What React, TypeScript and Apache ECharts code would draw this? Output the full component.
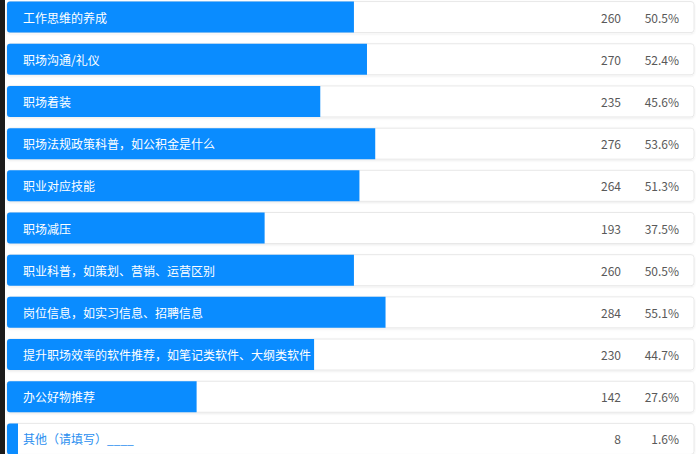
import React, { useEffect, useRef } from "react";
import * as echarts from "echarts";

const categories = [
  "工作思维的养成",
  "职场沟通/礼仪",
  "职场着装",
  "职场法规政策科普，如公积金是什么",
  "职业对应技能",
  "职场减压",
  "职业科普，如策划、营销、运营区别",
  "岗位信息，如实习信息、招聘信息",
  "提升职场效率的软件推荐，如笔记类软件、大纲类软件",
  "办公好物推荐",
  "其他（请填写）____",
];
const counts = [260, 270, 235, 276, 264, 193, 260, 284, 230, 142, 8];
const percents = [50.5, 52.4, 45.6, 53.6, 51.3, 37.5, 50.5, 55.1, 44.7, 27.6, 1.6];

export default function App() {
  const ref = useRef<HTMLDivElement>(null);
  useEffect(() => {
    const chart = echarts.init(ref.current!, null, { renderer: "svg" });
    const font = "'Noto Sans CJK SC', 'Microsoft YaHei', sans-serif";
    chart.setOption({
      animation: false,
      backgroundColor: "#ffffff",
      graphic: [
        { type: "rect", left: 0, top: 0, shape: { width: 5, height: 470 }, style: { fill: "#1b1b1b" }, z: 100 },
      ],
      grid: { left: 7, right: 2, top: 0, bottom: 0, containLabel: false },
      xAxis: { type: "value", min: 0, max: 100, show: false },
      yAxis: [
        {
          type: "category",
          data: categories,
          inverse: true,
          show: false,
        },
        {
          type: "category",
          data: categories,
          inverse: true,
          position: "right",
          axisLine: { show: false },
          axisTick: { show: false },
          splitLine: { show: false },
          z: 10,
          axisLabel: {
            inside: true,
            margin: 15,
            fontFamily: font,
            formatter: (_v: string, i: number) =>
              `{n|${counts[i]}}{p|${percents[i].toFixed(1)}%}`,
            rich: {
              n: { width: 40, align: "right", color: "#595959", fontSize: 12, fontFamily: font },
              p: { width: 58, align: "right", color: "#595959", fontSize: 12, fontFamily: font },
            },
          },
        },
      ],
      series: [
        {
          type: "bar",
          data: percents.map((v, i) => ({
            value: v,
            label: i === categories.length - 1 ? { color: "#2b8ff0" } : undefined,
          })),
          barWidth: 31,
          itemStyle: { color: "#0a8cff", borderRadius: [3, 0, 0, 3] },
          showBackground: true,
          backgroundStyle: {
            color: "#ffffff",
            borderColor: "#e8e8e8",
            borderWidth: 1,
            borderRadius: 3,
            shadowBlur: 2,
            shadowColor: "rgba(0,0,0,0.08)",
            shadowOffsetY: 1,
          },
          label: {
            show: true,
            position: "insideLeft",
            distance: 16,
            color: "#ffffff",
            fontSize: 12,
            fontFamily: font,
            formatter: (p: any) => categories[p.dataIndex],
          },
        },
      ],
    });
    return () => chart.dispose();
  }, []);
  return (
    <div
      ref={ref}
      style={{ position: "fixed", left: 0, top: -4, width: 696, height: 464 }}
    />
  );
}
